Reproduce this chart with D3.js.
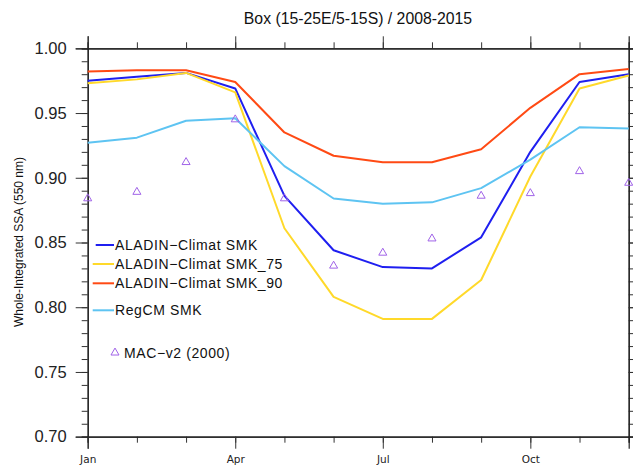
<!DOCTYPE html>
<html><head><meta charset="utf-8">
<script src="https://cdn.jsdelivr.net/npm/d3@7"></script>
<style>body{margin:0;background:#fff}svg{display:block}</style>
</head><body>
<svg id="c" width="633" height="467"></svg>
<script>
const months = ["Jan","Feb","Mar","Apr","May","Jun","Jul","Aug","Sep","Oct","Nov","Dec"];
const xTickLabels = ["Jan","Apr","Jul","Oct"];
const yTickLabels = ["0.70","0.75","0.80","0.85","0.90","0.95","1.00"];
const aladinSMK   = [0.975,0.978,0.981,0.969,0.886,0.844,0.831,0.830,0.854,0.920,0.974,0.980];
const aladinSMK75 = [0.973,0.976,0.981,0.966,0.861,0.808,0.791,0.791,0.821,0.901,0.969,0.979];
const aladinSMK90 = [0.982,0.983,0.983,0.974,0.935,0.917,0.912,0.912,0.922,0.954,0.980,0.984];
const regcmSMK    = [0.927,0.931,0.944,0.946,0.909,0.884,0.880,0.881,0.892,0.914,0.939,0.938];
const macv2       = [0.884,0.889,0.912,0.945,0.884,0.832,0.842,0.853,0.886,0.888,0.905,0.896];
const seriesNames = ["ALADIN\u2212Climat SMK","ALADIN\u2212Climat SMK_75","ALADIN\u2212Climat SMK_90","RegCM SMK"];
const markerName = "MAC\u2212v2 (2000)";
const titleText = "Box (15-25E/5-15S) / 2008-2015";
const yTitle = "Whole-Integrated SSA (550 nm)";

const colors = ["#1f1ff0","#ffd92a","#ff4a14","#5ec4f2"];
const markerColor = "#a063e8";

const svg = d3.select("#c");
const L = 87.7, R = 628.7, T = 48.3, B = 436.7;
const x = d3.scaleLinear().domain([0, 11]).range([L, R]);
const y = d3.scaleLinear().domain([0.70, 1.00]).range([B, T]);

const majorX = [0,3,6,9];
const minorX = d3.range(0,12);
const majorY = yTickLabels.map(Number);
const minorY = d3.range(70,101).map(v=>v/100);

function styleAxis(g){
  g.selectAll("path.domain").attr("stroke","#222").attr("stroke-width",1.2);
  g.selectAll(".tick line").attr("stroke","#333").attr("stroke-width",1);
}
// minor
svg.append("g").attr("transform",`translate(${L},0)`).call(d3.axisLeft(y).tickValues(minorY).tickSize(6).tickFormat("")).call(styleAxis);
svg.append("g").attr("transform",`translate(${R},0)`).call(d3.axisRight(y).tickValues(minorY).tickSize(6).tickFormat("")).call(styleAxis);
svg.append("g").attr("transform",`translate(0,${B})`).call(d3.axisBottom(x).tickValues(minorX).tickSize(6).tickFormat("")).call(styleAxis);
svg.append("g").attr("transform",`translate(0,${T})`).call(d3.axisTop(x).tickValues(minorX).tickSize(6).tickFormat("")).call(styleAxis);
// major
const yl = svg.append("g").attr("transform",`translate(${L},0)`)
  .call(d3.axisLeft(y).tickValues(majorY).tickSize(12).tickPadding(9).tickFormat((d,i)=>yTickLabels[i])).call(styleAxis);
yl.selectAll("text").attr("font-family","Liberation Sans, Arial, sans-serif").attr("font-size",16.5).attr("fill","#222");
svg.append("g").attr("transform",`translate(${R},0)`).call(d3.axisRight(y).tickValues(majorY).tickSize(12).tickFormat("")).call(styleAxis);
const xl = svg.append("g").attr("transform",`translate(0,${B})`)
  .call(d3.axisBottom(x).tickValues(majorX).tickSize(12).tickPadding(7).tickFormat((d,i)=>xTickLabels[i])).call(styleAxis);
xl.selectAll("text").attr("font-family","DejaVu Sans, sans-serif").attr("font-size",10.5).attr("fill","#222");
svg.append("g").attr("transform",`translate(0,${T})`).call(d3.axisTop(x).tickValues(majorX).tickSize(12).tickFormat("")).call(styleAxis);

// lines
const line = d3.line().x((d,i)=>x(i)).y(d=>y(d));
[aladinSMK, aladinSMK75, aladinSMK90, regcmSMK].forEach((s,k)=>{
  svg.append("path").datum(s).attr("d",line).attr("fill","none")
    .attr("stroke",colors[k]).attr("stroke-width",2).attr("stroke-linejoin","round");
});
// markers
const tri = d3.symbol().type(d3.symbolTriangle).size(28);
svg.append("g").selectAll("path").data(macv2).join("path")
  .attr("d",tri).attr("transform",(d,i)=>`translate(${x(i)},${y(d)})`)
  .attr("fill","none").attr("stroke",markerColor).attr("stroke-width",1);

// title
svg.append("text").attr("x",358).attr("y",24).attr("text-anchor","middle")
  .attr("font-family","Liberation Sans, Arial, sans-serif").attr("font-size",15.8).attr("fill","#111").text(titleText);
svg.append("text").attr("transform","translate(23,242) rotate(-90)").attr("text-anchor","middle")
  .attr("font-family","Liberation Sans, Arial, sans-serif").attr("font-size",12).attr("fill","#111").text(yTitle);

// legend
const legY = [245, 264, 283.3, 310.3];
const legX0 = [95.7, 92.7, 92.7, 92.7];
seriesNames.forEach((n,k)=>{
  svg.append("line").attr("x1",legX0[k]).attr("x2",114).attr("y1",legY[k]).attr("y2",legY[k])
    .attr("stroke",colors[k]).attr("stroke-width",2);
  svg.append("text").attr("x",115).attr("y",legY[k]+5).attr("font-family","Liberation Sans, Arial, sans-serif")
    .attr("font-size",14).attr("letter-spacing",0.6).attr("fill","#111").text(n);
});
svg.append("path").attr("d",tri).attr("transform","translate(115,352.7)")
  .attr("fill","none").attr("stroke",markerColor).attr("stroke-width",1);
svg.append("text").attr("x",124).attr("y",357.7).attr("font-family","Liberation Sans, Arial, sans-serif")
  .attr("font-size",14).attr("letter-spacing",0.6).attr("fill","#111").text(markerName);
</script>
</body></html>
